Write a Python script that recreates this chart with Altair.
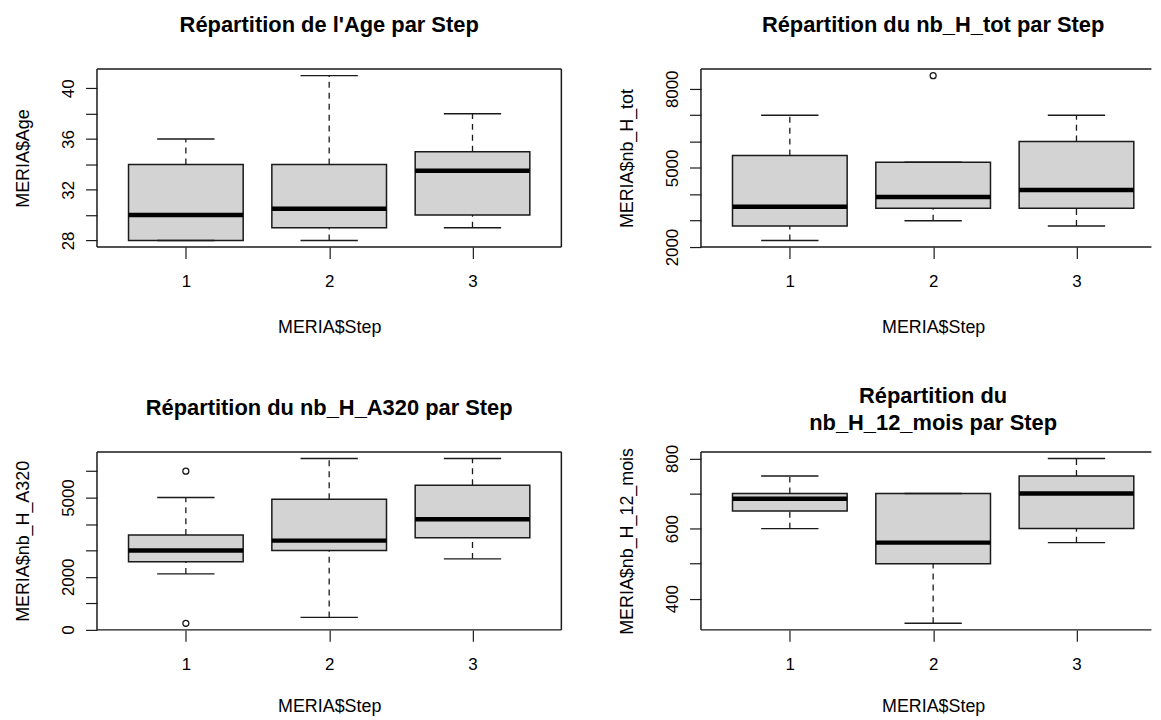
import json
import altair as alt
import pandas as pd

# ---------------- data ----------------
steps = [1, 2, 3]
x_title = "MERIA$Step"

# Panel 1 : Age
age_title = "Répartition de l'Age par Step"
age_ytitle = "MERIA$Age"
age_low = [28, 28, 29]
age_q1 = [28, 29, 30]
age_med = [30, 30.5, 33.5]
age_q3 = [34, 34, 35]
age_high = [36, 41, 38]
age_out_step = []
age_out_val = []
age_ticks = [28, 30, 32, 34, 36, 38, 40]
age_labels = [28, 32, 36, 40]

# Panel 2 : nb_H_tot
tot_title = "Répartition du nb_H_tot par Step"
tot_ytitle = "MERIA$nb_H_tot"
tot_low = [2250, 3000, 2800]
tot_q1 = [2800, 3470, 3470]
tot_med = [3530, 3900, 4160]
tot_q3 = [5470, 5220, 6000]
tot_high = [7000, 5220, 7000]
tot_out_step = [2]
tot_out_val = [8500]
tot_ticks = [2000, 3000, 4000, 5000, 6000, 7000, 8000]
tot_labels = [2000, 5000, 8000]

# Panel 3 : nb_H_A320
a320_title = "Répartition du nb_H_A320 par Step"
a320_ytitle = "MERIA$nb_H_A320"
a320_low = [2110, 465, 2680]
a320_q1 = [2570, 3000, 3480]
a320_med = [3000, 3370, 4180]
a320_q3 = [3580, 4940, 5470]
a320_high = [5000, 6480, 6480]
a320_out_step = [1, 1]
a320_out_val = [6000, 240]
a320_ticks = [0, 1000, 2000, 3000, 4000, 5000, 6000]
a320_labels = [0, 2000, 5000]

# Panel 4 : nb_H_12_mois
m12_title = ["Répartition du", "nb_H_12_mois par Step"]
m12_ytitle = "MERIA$nb_H_12_mois"
m12_low = [600, 330, 560]
m12_q1 = [650, 500, 600]
m12_med = [685, 560, 700]
m12_q3 = [700, 700, 750]
m12_high = [750, 700, 800]
m12_out_step = []
m12_out_val = []
m12_ticks = [400, 500, 600, 700, 800]
m12_labels = [400, 600, 800]

# ---------------- styling / layout ----------------
FONT = "Liberation Sans"
LINE = "#1a1a1a"
BOX_FILL = "#d3d3d3"
W_FULL = 467          # full R plot-region width
W_RIGHT = 453         # right column is cut by the picture edge
H = 179
XLO, XHI = 0.38, 3.62
PX_PER_UNIT = W_FULL / (XHI - XLO)


def make_panel(title, ytitle, low, q1, med, q3, high, out_step, out_val,
               ticks, labels, width, right_border, title_offset, title_dx, xtitle_y):
    allv = low + high + out_val
    vmin, vmax = min(allv), max(allv)
    pad = 0.04 * (vmax - vmin)
    ys = alt.Scale(domain=[vmin - pad, vmax + pad], nice=False, zero=False)
    xs = alt.Scale(domain=[XLO, XLO + width / PX_PER_UNIT], nice=False, zero=False)

    stats = pd.DataFrame(dict(step=steps, low=low, q1=q1, med=med, q3=q3, high=high))
    base = alt.Chart(stats).transform_calculate(
        bl="datum.step - 0.4", br="datum.step + 0.4",
        cl="datum.step - 0.2", cr="datum.step + 0.2")

    label_expr = "indexof(%s, datum.value) >= 0 ? datum.label : ''" % json.dumps(labels)

    xaxis = alt.Axis(values=steps, tickCount=40, format="d", title=x_title, grid=False,
                     domain=False, tickSize=11.5, tickColor=LINE, tickWidth=1.2,
                     labelPadding=15, labelFontSize=17, labelFont=FONT, labelColor="black",
                     labelFlush=False, labelOverlap=False, labelAngle=0,
                     titleFont=FONT, titleFontSize=18, titleFontWeight="normal",
                     titleColor="black", titleX=W_FULL / 2, titleY=xtitle_y,
                     titleBaseline="alphabetic", titleAlign="center", titleAngle=0)
    yaxis = alt.Axis(values=ticks, tickCount=40, format="d", labelExpr=label_expr,
                     title=ytitle, grid=False, domain=False, tickSize=11.5,
                     tickColor=LINE, tickWidth=1.2,
                     labelAngle=270, labelAlign="center", labelBaseline="alphabetic",
                     labelPadding=12.3, labelFontSize=17, labelFont=FONT, labelColor="black",
                     labelFlush=False, labelOverlap=False,
                     titleFont=FONT, titleFontSize=18, titleFontWeight="normal",
                     titleColor="black", titleAngle=270, titleX=-68.8, titleY=H / 2,
                     titleAlign="center", titleBaseline="alphabetic")

    def X(f):
        return alt.X(f"{f}:Q", scale=xs)

    def Y(f):
        return alt.Y(f"{f}:Q", scale=ys)

    dash = [6, 5]
    layers = [
        base.mark_rect(fill=BOX_FILL, stroke=LINE, strokeWidth=1.5).encode(
            x=alt.X("bl:Q", scale=xs, axis=xaxis), x2="br",
            y=alt.Y("q1:Q", scale=ys, axis=yaxis), y2="q3"),
        base.mark_rule(color=LINE, strokeWidth=1.3, strokeDash=dash).encode(
            x=X("step"), y=Y("low"), y2="q1"),
        base.mark_rule(color=LINE, strokeWidth=1.3, strokeDash=dash).encode(
            x=X("step"), y=Y("q3"), y2="high"),
        base.mark_rule(color=LINE, strokeWidth=1.4).encode(x=X("cl"), x2="cr", y=Y("low")),
        base.mark_rule(color=LINE, strokeWidth=1.4).encode(x=X("cl"), x2="cr", y=Y("high")),
        base.mark_rule(color="black", strokeWidth=4.5).encode(
            x=X("bl"), x2="br", y=Y("med")),
    ]
    if out_val:
        outl = pd.DataFrame({"step": out_step, "val": out_val})
        layers.append(alt.Chart(outl).mark_point(
            shape="circle", filled=False, size=36, color=LINE, strokeWidth=1.3, opacity=1
        ).encode(x=X("step"), y=Y("val")))

    frame = alt.Chart(pd.DataFrame({"k": [0]}))
    fl = dict(color=LINE, strokeWidth=1.5)
    layers += [
        frame.mark_rule(**fl).encode(x=alt.value(0), x2=alt.value(width), y=alt.value(0)),
        frame.mark_rule(**fl).encode(x=alt.value(0), x2=alt.value(width), y=alt.value(H)),
        frame.mark_rule(**fl).encode(x=alt.value(0), y=alt.value(0), y2=alt.value(H)),
    ]
    if right_border:
        layers.append(frame.mark_rule(**fl).encode(
            x=alt.value(width), y=alt.value(0), y2=alt.value(H)))

    return alt.layer(*layers).properties(
        width=width, height=H,
        title=alt.TitleParams(text=title, font=FONT, fontSize=22, fontWeight="bold",
                              color="black", anchor="middle", frame="group",
                              baseline="bottom", offset=title_offset, dx=title_dx,
                              lineHeight=26.7))


dx_right = (W_FULL - W_RIGHT) / 2
p1 = make_panel(age_title, age_ytitle, age_low, age_q1, age_med, age_q3, age_high,
                age_out_step, age_out_val, age_ticks, age_labels, W_FULL, True, 9.7, 0, 86)
p2 = make_panel(tot_title, tot_ytitle, tot_low, tot_q1, tot_med, tot_q3, tot_high,
                tot_out_step, tot_out_val, tot_ticks, tot_labels, W_RIGHT, False, 9.7,
                dx_right, 86)
p3 = make_panel(a320_title, a320_ytitle, a320_low, a320_q1, a320_med, a320_q3, a320_high,
                a320_out_step, a320_out_val, a320_ticks, a320_labels, W_FULL, True, 9.7, 0, 82)
p4 = make_panel(m12_title, m12_ytitle, m12_low, m12_q1, m12_med, m12_q3, m12_high,
                m12_out_step, m12_out_val, m12_ticks, m12_labels, W_RIGHT, False, -12.5,
                dx_right, 82)

chart = alt.concat(
    p1, p2, p3, p4, columns=2, spacing={"row": 206, "column": 140.4}, bounds="flush"
).properties(
    padding={"left": 6.5, "top": 3.4, "right": 0, "bottom": 0}, background="white"
).configure_view(stroke=None)

chart.save("out.html", embed_options={"renderer": "svg", "actions": False})
